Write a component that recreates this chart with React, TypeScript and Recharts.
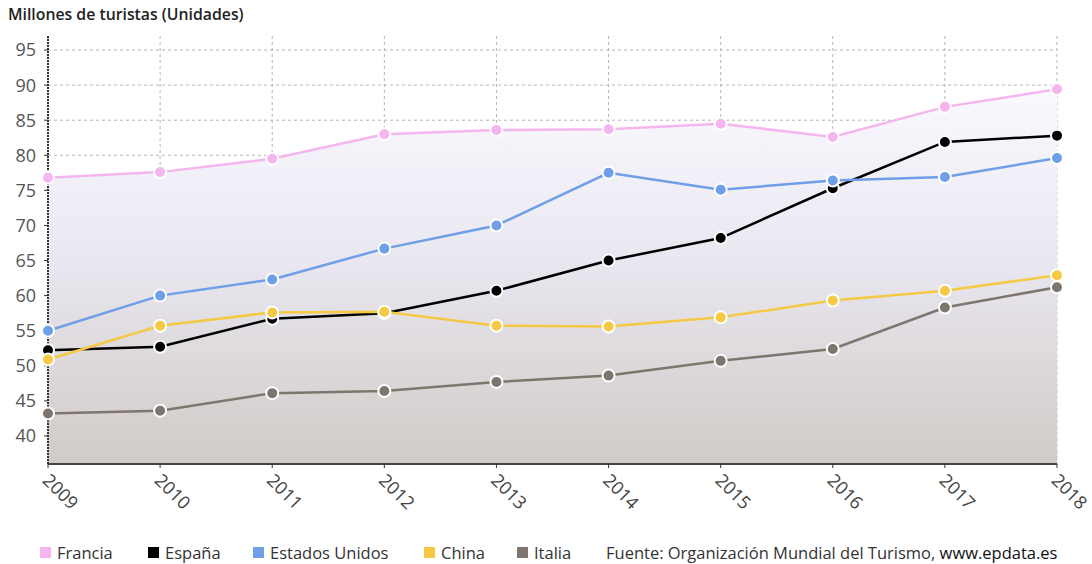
import React from 'react';
import { ComposedChart, Line, Area, XAxis, YAxis, CartesianGrid } from 'recharts';

const years = ['2009', '2010', '2011', '2012', '2013', '2014', '2015', '2016', '2017', '2018'];
const francia = [76.8, 77.6, 79.5, 83.0, 83.6, 83.7, 84.5, 82.6, 86.9, 89.4];
const espana = [52.2, 52.7, 56.7, 57.5, 60.7, 65.0, 68.2, 75.3, 81.9, 82.8];
const eeuu = [55.0, 60.0, 62.3, 66.7, 70.0, 77.5, 75.1, 76.4, 76.9, 79.6];
const china = [50.9, 55.7, 57.6, 57.7, 55.7, 55.6, 56.9, 59.3, 60.7, 62.9];
const italia = [43.2, 43.6, 46.1, 46.4, 47.7, 48.6, 50.7, 52.4, 58.3, 61.2];
const yTicks = [40, 45, 50, 55, 60, 65, 70, 75, 80, 85, 90, 95];
const yDomain = [36, 97];

const data = years.map((y, i) => ({
  year: y,
  francia: francia[i],
  espana: espana[i],
  eeuu: eeuu[i],
  china: china[i],
  italia: italia[i],
}));

const series = [
  { key: 'francia', name: 'Francia', color: '#f5b6ef' },
  { key: 'espana', name: 'España', color: '#000000' },
  { key: 'eeuu', name: 'Estados Unidos', color: '#6e9fe8' },
  { key: 'china', name: 'China', color: '#f5c944' },
  { key: 'italia', name: 'Italia', color: '#7e766e' },
];

const font = '"Open Sans", "Noto Sans", sans-serif';

const XTick = (props: any) => {
  const { x, y, payload } = props;
  return (
    <g transform={`translate(${x - 3},${y + 8})`}>
      <text transform="rotate(45)" textAnchor="start" fontSize={18} fill="#444" fontFamily={font} dy={5}>
        {payload.value}
      </text>
    </g>
  );
};

// grid only at the y ticks (no line at the top edge of the plot)
const hLines = (p: any) => {
  const sc = p && p.yAxis && p.yAxis.scale;
  if (typeof sc === 'function') return yTicks.map((t) => sc(t));
  const top = p.offset.top;
  const h = p.offset.height;
  return yTicks.map((t) => top + ((yDomain[1] - t) / (yDomain[1] - yDomain[0])) * h);
};

const legendPos = [40, 148, 253, 424, 517];

export default function App() {
  return (
    <div style={{ position: 'absolute', left: 0, top: 0, width: 1092, height: 564, background: '#fff', fontFamily: font }}>
      <div style={{ position: 'absolute', left: 8, top: 3, fontSize: 15.8, fontWeight: 600, color: '#222' }}>
        Millones de turistas (Unidades)
      </div>
      <ComposedChart width={1092} height={564} data={data} margin={{ top: 36, right: 35, bottom: 40, left: 0 }}>
        <defs>
          <linearGradient id="frFill" x1="0" y1="0" x2="0" y2="1">
            <stop offset="0%" stopColor="#fbf9ff" />
            <stop offset="45%" stopColor="#e9e7f0" />
            <stop offset="100%" stopColor="#d1cbc7" />
          </linearGradient>
        </defs>
        <CartesianGrid stroke="#b5b5b5" strokeDasharray="3 3" horizontalCoordinatesGenerator={hLines} />
        <XAxis
          dataKey="year"
          height={60}
          tick={<XTick />}
          tickLine={{ stroke: '#333' }}
          tickSize={4}
          axisLine={{ stroke: '#444', strokeWidth: 2 }}
          interval={0}
        />
        <YAxis
          width={48}
          domain={yDomain}
          ticks={yTicks}
          allowDataOverflow
          tick={{ fontSize: 18, fill: '#555', fontFamily: font }}
          tickLine={{ stroke: '#333' }}
          tickSize={4}
          tickMargin={8}
          axisLine={{ stroke: '#333', strokeWidth: 2, strokeDasharray: '2 1' }}
        />
        <Area
          type="linear"
          dataKey="francia"
          stroke="none"
          fill="url(#frFill)"
          fillOpacity={1}
          baseValue={36}
          isAnimationActive={false}
          dot={false}
          activeDot={false}
        />
        {series.map((s) => (
          <Line
            key={s.key}
            type="linear"
            dataKey={s.key}
            name={s.name}
            stroke={s.color}
            strokeWidth={2.5}
            dot={{ r: 6, fill: s.color, stroke: '#fff', strokeWidth: 2 }}
            isAnimationActive={false}
          />
        ))}
      </ComposedChart>
      <div style={{ position: 'absolute', top: 541, left: 0, width: 1092, height: 22, fontSize: 16.5, color: '#333' }}>
        {series.map((s, i) => (
          <div key={s.key} style={{ position: 'absolute', left: legendPos[i], top: 0, display: 'flex', alignItems: 'center', whiteSpace: 'nowrap' }}>
            <span style={{ display: 'inline-block', width: 11, height: 11, background: s.color, marginRight: 6 }} />
            {s.name}
          </div>
        ))}
        <div style={{ position: 'absolute', left: 606, top: 0, whiteSpace: 'nowrap' }}>
          Fuente: Organización Mundial del Turismo, <span style={{ color: '#111' }}>www.epdata.es</span>
        </div>
      </div>
    </div>
  );
}
